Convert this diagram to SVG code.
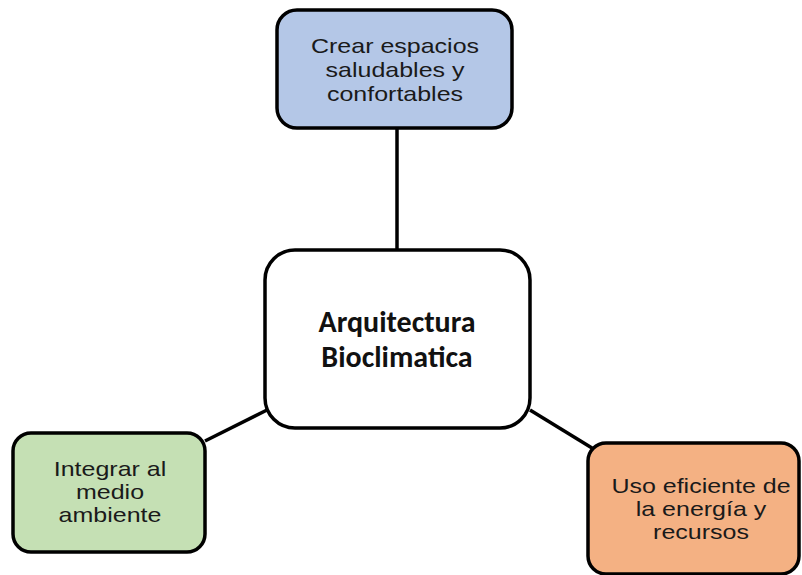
<svg xmlns="http://www.w3.org/2000/svg" width="802" height="575" viewBox="0 0 802 575">
<style>
.box{stroke:#000;stroke-width:3.5}
.t{font-family:"Liberation Sans",Arial,sans-serif;font-size:21px;fill:#1a1a1a;text-anchor:middle}
.c{font-family:Carlito,"Liberation Sans",sans-serif;font-size:30px;font-weight:bold;fill:#111;text-anchor:middle}
.ln{stroke:#000;stroke-width:3.5;fill:none}
</style>
<rect width="802" height="575" fill="#fff"/>
<g id="connectors">
<line class="ln" x1="397" y1="128" x2="397" y2="250"/>
<line class="ln" x1="205" y1="441" x2="267" y2="410"/>
<line class="ln" x1="530" y1="410" x2="592" y2="448"/>
</g>
<g id="top">
<rect class="box" x="277" y="10" width="235" height="118" rx="20" fill="#b4c7e7"/>
<g transform="translate(395,0) scale(1.19,1)">
<text class="t" x="0" y="53">Crear espacios</text>
<text class="t" x="0" y="77">saludables y</text>
<text class="t" x="0" y="101">confortables</text>
</g>
</g>
<g id="center">
<rect class="box" x="265" y="250" width="265" height="178" rx="30" fill="#fff"/>
<text class="c" x="397" y="332">Arquitectura</text>
<text class="c" x="397" y="367">Bioclimatica</text>
</g>
<g id="left">
<rect class="box" x="13" y="433" width="192" height="119" rx="18" fill="#c5e0b4"/>
<g transform="translate(110,0) scale(1.19,1)">
<text class="t" x="0" y="476">Integrar al</text>
<text class="t" x="0" y="499">medio</text>
<text class="t" x="0" y="522">ambiente</text>
</g>
</g>
<g id="right">
<rect class="box" x="588" y="443" width="211" height="131" rx="18" fill="#f4b183"/>
<g transform="translate(701,0) scale(1.19,1)">
<text class="t" x="0" y="493">Uso eficiente de</text>
<text class="t" x="0" y="516">la energía y</text>
<text class="t" x="0" y="539">recursos</text>
</g>
</g>
</svg>
